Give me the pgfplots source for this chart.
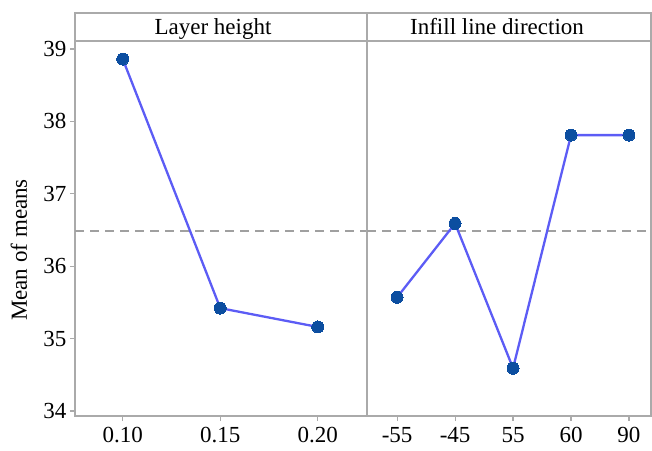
\documentclass[border=0pt]{standalone}
\usepackage{fontspec}
\setmainfont{Liberation Serif}
\usepackage{pgfplots}
\pgfplotsset{compat=1.18}
\definecolor{framecol}{RGB}{170,170,170}
\definecolor{linecol}{RGB}{92,92,245}
\definecolor{markcol}{RGB}{12,78,160}
\definecolor{dashcol}{RGB}{160,160,160}
\newcommand{\bigf}{\fontsize{23}{27}\selectfont}
\begin{document}
\begin{tikzpicture}
\useasboundingbox (0pt,0pt) rectangle (652pt,450pt);
\pgfplotsset{
  panel/.style={
    scale only axis, anchor=south west, height=375pt,
    ymin=33.93, ymax=39.11,
    axis line style={framecol, line width=2pt},
    tick style={framecol, line width=1.2pt},
    major tick length=5pt, tick align=outside,
    xtick pos=bottom, ytick pos=left,
    /pgf/number format/assume math mode=true,
    tick label style={font=\bigf},
    xticklabel style={yshift=-3pt},
    clip=false,
  },
  series/.style={linecol, line width=2.3pt, mark=*, mark size=6pt,
    mark options={markcol, fill=markcol, line width=0pt}},
  meanline/.style={dashcol, line width=2pt, dash pattern=on 9pt off 6pt, forget plot},
}
\begin{axis}[panel, at={(75pt,34pt)}, width=292pt,
  xmin=-0.49, xmax=2.505,
  xtick={0,1,2}, xticklabels={0.10,0.15,0.20},
  ytick={34,35,36,37,38,39}]
\addplot[meanline] coordinates {(-0.49,36.48) (2.505,36.48)};
\addplot[series] coordinates {(0,38.86) (1,35.42) (2,35.16)};
\end{axis}
\begin{axis}[panel, at={(367pt,34pt)}, width=284pt,
  xmin=-0.52, xmax=4.38,
  xtick={0,1,2,3,4}, xticklabels={-55,-45,55,60,90},
  ytick=\empty]
\addplot[meanline] coordinates {(-0.52,36.48) (4.38,36.48)};
\addplot[series] coordinates {(0,35.57) (1,36.59) (2,34.59) (3,37.81) (4,37.81)};
\end{axis}
\draw[framecol, line width=2pt] (75pt,409pt) -- (75pt,437pt) -- (651pt,437pt) -- (651pt,409pt);
\draw[framecol, line width=2pt] (367pt,409pt) -- (367pt,437pt);
\node[font=\bigf, anchor=base] at (213pt,415pt) {Layer height};
\node[font=\bigf, anchor=base] at (497pt,415pt) {Infill line direction};
\node[font=\bigf, rotate=90] at (19pt,200pt) {Mean of means};
\end{tikzpicture}
\end{document}
